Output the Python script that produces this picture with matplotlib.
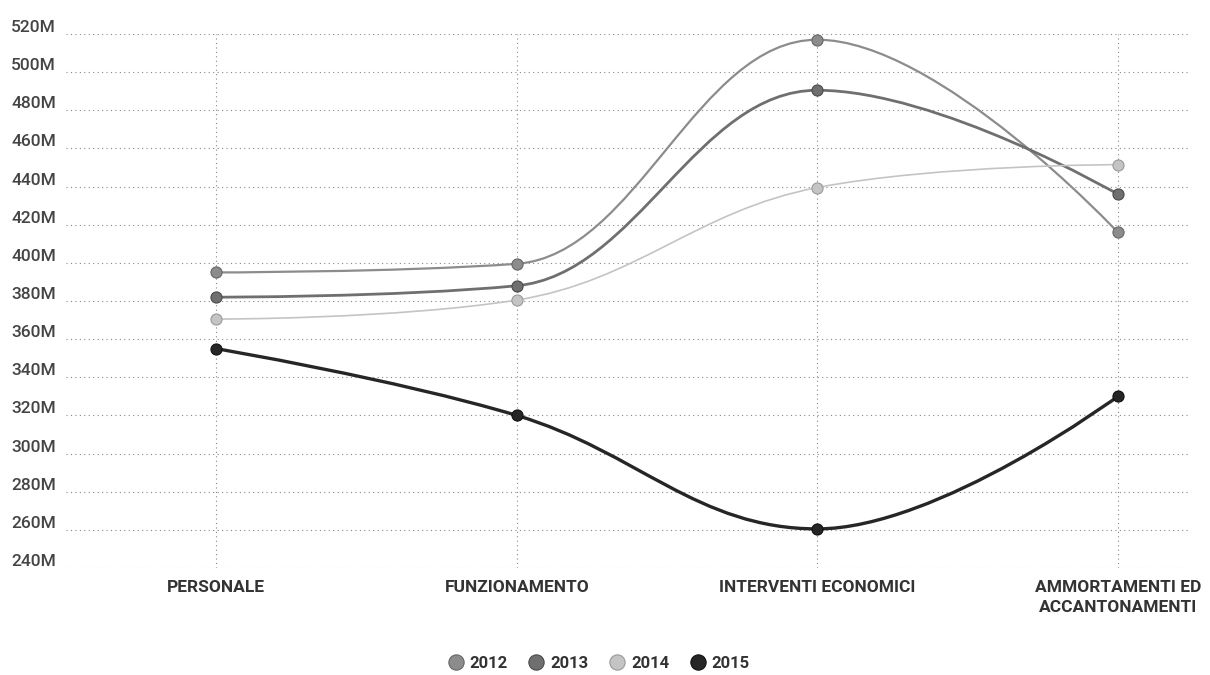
import numpy as np
import matplotlib
matplotlib.use("Agg")
import matplotlib.pyplot as plt
from matplotlib.path import Path
from matplotlib.patches import PathPatch
from matplotlib.lines import Line2D
import matplotlib.transforms as mtransforms

categories = ["PERSONALE", "FUNZIONAMENTO", "INTERVENTI ECONOMICI", "AMMORTAMENTI ED\nACCANTONAMENTI"]
years = ["2012", "2013", "2014", "2015"]
v2012 = [395, 399.5, 517, 416]
v2013 = [382, 388, 490.5, 436]
v2014 = [370.5, 380.5, 439.5, 451.5]
v2015 = [355, 320, 260.5, 330]
yticks = list(range(240, 521, 20))

series = [v2012, v2013, v2014, v2015]
colors = ["#8c8c8c", "#6f6f6f", "#c4c4c4", "#262626"]
edges = ["#666666", "#4a4a4a", "#9a9a9a", "#111111"]
widths = [1.6, 2.0, 1.2, 2.4]


def spline_path(xs, ys, smoothing=1.5):
    # highcharts-like spline: cubic beziers with control points from neighbours
    n = len(xs)
    verts = [(xs[0], ys[0])]
    codes = [Path.MOVETO]
    lc = [None] * n
    rc = [None] * n
    for i in range(n):
        if i == 0 or i == n - 1:
            lc[i] = rc[i] = (xs[i], ys[i])
            continue
        d = smoothing + 1
        lx = (smoothing * xs[i] + xs[i - 1]) / d
        ly = (smoothing * ys[i] + ys[i - 1]) / d
        rx = (smoothing * xs[i] + xs[i + 1]) / d
        ry = (smoothing * ys[i] + ys[i + 1]) / d
        corr = ((ry - ly) * (rx - xs[i])) / (rx - lx) + ys[i] - ry
        ly += corr
        ry += corr
        if ly > max(ys[i - 1], ys[i]):
            ly = max(ys[i - 1], ys[i])
            ry = 2 * ys[i] - ly
        elif ly < min(ys[i - 1], ys[i]):
            ly = min(ys[i - 1], ys[i])
            ry = 2 * ys[i] - ly
        if ry > max(ys[i + 1], ys[i]):
            ry = max(ys[i + 1], ys[i])
            ly = 2 * ys[i] - ry
        elif ry < min(ys[i + 1], ys[i]):
            ry = min(ys[i + 1], ys[i])
            ly = 2 * ys[i] - ry
        lc[i] = (lx, ly)
        rc[i] = (rx, ry)
    for i in range(1, n):
        verts += [rc[i - 1], lc[i], (xs[i], ys[i])]
        codes += [Path.CURVE4] * 3
    return Path(verts, codes)


fig = plt.figure(figsize=(12.1, 6.75), dpi=100)
ax = fig.add_axes([66 / 1210, 1 - 568 / 675, (1190 - 66) / 1210, (568 - 34) / 675])
x = np.arange(len(categories))

for vals, c, ec, lw in zip(series, colors, edges, widths):
    p = spline_path(x.astype(float), np.array(vals, dtype=float))
    ax.add_patch(PathPatch(p, facecolor="none", edgecolor=c, lw=lw, zorder=3))
    ax.plot(x, vals, ls="none", marker="o", ms=8, mfc=c, mec=ec, mew=0.8, zorder=4)

ax.set_xlim(-0.5, 3.24)
ax.set_ylim(240, 520)
ax.set_yticks(yticks)
ax.set_yticklabels([f"{t}M" for t in yticks])
ax.set_xticks(x)
ax.set_xticklabels(categories)
for s in ax.spines.values():
    s.set_visible(False)
ax.tick_params(length=0)
ax.grid(True, ls=(0, (1, 3)), color="#888888", lw=0.8)
ax.set_axisbelow(True)

for lab in ax.get_yticklabels():
    lab.set_fontfamily("Roboto")
    lab.set_fontsize(12.5)
    lab.set_fontweight("medium")
    lab.set_color("#444444")
    lab.set_horizontalalignment("left")
    lab.set_transform(lab.get_transform() + mtransforms.ScaledTranslation(-0.50, 0.08, fig.dpi_scale_trans))
for lab in ax.get_xticklabels():
    lab.set_fontfamily("Roboto")
    lab.set_fontsize(12.5)
    lab.set_fontweight("bold")
    lab.set_color("#333333")
    lab.set_linespacing(1.35)
ax.tick_params(axis="x", pad=9)

handles = [Line2D([], [], ls="none", marker="o", ms=11, mfc=c, mec=ec, mew=0.8)
           for c, ec in zip(colors, edges)]
leg = fig.legend(handles, years, loc="center", bbox_to_anchor=(0.494, 1 - 663 / 675),
                 ncol=4, frameon=False, handletextpad=0.25, columnspacing=1.1,
                 handlelength=1.2, prop={"family": "Roboto", "weight": "bold", "size": 12})
for t in leg.get_texts():
    t.set_color("#333333")

fig.savefig("out.png", dpi=100)
